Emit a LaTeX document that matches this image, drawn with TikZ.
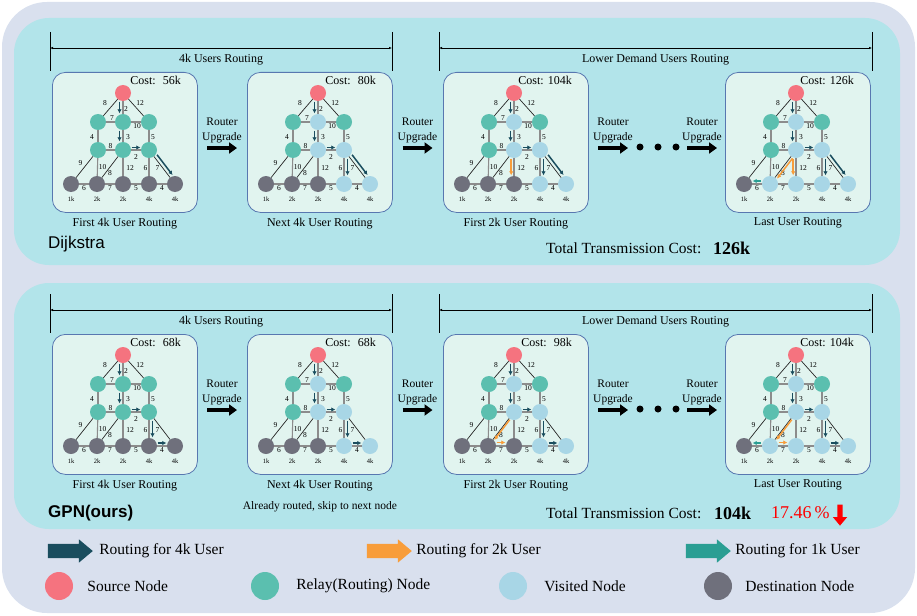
\documentclass[tikz,border=0pt]{standalone}
\usepackage{fontspec}
\setmainfont{Liberation Serif}
\newfontfamily\tagsans{Liberation Sans}
\usetikzlibrary{positioning,arrows.meta,shapes.arrows}

\definecolor{outerbg}{HTML}{D9E0EE}
\definecolor{panelbg}{HTML}{B2E4EA}
\definecolor{boxbg}{HTML}{E1F4EF}
\definecolor{boxline}{HTML}{5877B0}
\definecolor{srcred}{HTML}{F5737F}
\definecolor{relaygreen}{HTML}{5BBFAF}
\definecolor{visitblue}{HTML}{A8D6E6}
\definecolor{destgray}{HTML}{6F707C}
\definecolor{route4}{HTML}{1A4D5E}
\definecolor{route2}{HTML}{F89D3A}
\definecolor{route1}{HTML}{2A9E93}

\tikzset{
  vtx/.style={circle, inner sep=0pt, minimum size=16pt},
  src/.style={vtx, fill=srcred},
  relay/.style={vtx, fill=relaygreen},
  visit/.style={vtx, fill=visitblue},
  dest/.style={vtx, fill=destgray},
  link/.style={draw=black!45, line width=1.1pt},
  diag/.style={draw=black!85, line width=0.7pt},
  wt/.style={font=\fontsize{7.5}{8}\selectfont, inner sep=0.5pt},
  dem/.style={font=\fontsize{6.5}{7}\selectfont, inner sep=0.5pt},
  netbox/.style={draw=boxline, fill=boxbg, line width=0.8pt, rounded corners=13pt,
    minimum width=145pt, minimum height=140pt, anchor=north west, inner sep=0pt},
  costlbl/.style={font=\fontsize{12}{14}\selectfont, anchor=east, inner sep=0pt},
  snapcap/.style={font=\fontsize{12}{14}\selectfont, inner sep=1pt},
  r4/.style={draw=route4, line width=1.5pt, -{Latex[length=4pt,width=4.5pt]},
    shorten <=0.5pt, shorten >=0.5pt},
  r2/.style={r4, draw=route2},
  r1/.style={r4, draw=route1},
  spantick/.style={draw=black, line width=0.8pt},
  spanline/.style={draw=black, line width=0.8pt, {Latex[length=3pt,width=2.5pt]}-{Latex[length=3pt,width=2.5pt]}},
  spanlbl/.style={font=\fontsize{12}{14}\selectfont, inner sep=0pt},
  upg/.style={font=\fontsize{11.5}{15}\selectfont, align=center, inner sep=0pt},
  upgarrow/.style={draw=black, line width=3.8pt, -{Triangle[length=8pt,width=11pt]}},
  dotnode/.style={circle, fill=black, inner sep=0pt, minimum size=7pt},
  blockarrow/.style={single arrow, minimum height=45pt, inner xsep=0pt, inner ysep=7pt,
    single arrow head extend=4.5pt, single arrow tip angle=80},
  legdot/.style={circle, inner sep=0pt, minimum size=28pt},
  legtxt/.style={font=\fontsize{15.5}{18}\selectfont, inner sep=0pt, anchor=west},
  totallbl/.style={font=\fontsize{15.5}{18}\selectfont, inner sep=0pt, anchor=west},
}

% one routing snapshot: x, y, prefix, cost, middle nodes, d2..d5
\newcommand{\netpanel}[9]{%
  \begin{scope}[shift={(#1,#2)}, name prefix=#3-]
    \node[netbox] (box) at (0,0) {};
    \node[costlbl] (cost) at (129,8) {Cost: #4};
    % vertices
    \node[src]   (s)  at (71,21) {};
    \node[relay] (a1) at (46,50) {};
    \node[#5]    (a2) at (71,50) {};
    \node[relay] (a3) at (97,50) {};
    \node[relay] (b1) at (46,78) {};
    \node[#5]    (b2) at (71,78) {};
    \node[#5]    (b3) at (97,78) {};
    \node[dest]  (d1) at (19,112) {};
    \node[#6]    (d2) at (45,112) {};
    \node[#7]    (d3) at (71,112) {};
    \node[#8]    (d4) at (97,112) {};
    \node[#9]    (d5) at (123,112) {};
    % demands
    \node[dem] (k1) at (19,127) {1k};
    \node[dem] (k2) at (45,127) {2k};
    \node[dem] (k3) at (71,127) {2k};
    \node[dem] (k4) at (97,127) {4k};
    \node[dem] (k5) at (123,127) {4k};
    % links
    \draw[diag] (s) -- node[wt,xshift=-5.5pt,yshift=4.5pt] {8} (a1);
    \draw[link] (s) -- node[wt,xshift=3pt,yshift=-1.5pt] {2} (a2);
    \draw[diag] (s) -- node[wt,xshift=4pt,yshift=4.5pt] {12} (a3);
    \draw[link] (a1) -- node[wt,xshift=1.5pt,yshift=4pt] {7} (a2);
    \draw[link] (a2) -- node[wt,xshift=1pt,yshift=-4pt] {10} (a3);
    \draw[link] (a1) -- node[wt,xshift=-6pt,yshift=-1pt] {4} (b1);
    \draw[link] (a2) -- node[wt,xshift=5pt,yshift=-1pt] {3} (b2);
    \draw[link] (a3) -- node[wt,xshift=4pt,yshift=-1pt] {5} (b3);
    \draw[link] (b1) -- node[wt,yshift=4pt] {8} (b2);
    \draw[link] (b2) -- node[wt,yshift=-7pt] {2} (b3);
    \draw[diag] (b1) -- node[wt,xshift=-4pt,yshift=4pt] {9} (d1);
    \draw[link] (b1) -- node[wt,xshift=5pt] {10} (d2);
    \draw[diag] (b2) -- node[wt,yshift=-6pt] {8} (d2);
    \draw[link] (b2) -- node[wt,xshift=7pt,yshift=-1pt] {12} (d3);
    \draw[link] (b3) -- node[wt,xshift=-3.5pt,yshift=-1pt] {6} (d4);
    \draw[diag] (b3) -- node[wt,xshift=-4.5pt,yshift=-1pt] {7} (d5);
    \draw[link] (d1) -- node[wt,yshift=-4.5pt] {6} (d2);
    \draw[link] (d2) -- node[wt,yshift=-4.5pt] {7} (d3);
    \draw[link] (d3) -- node[wt,yshift=-4.5pt] {5} (d4);
    \draw[link] (d4) -- node[wt,yshift=-4.5pt] {4} (d5);
  \end{scope}}

% a routed hop, drawn beside its link
\newcommand{\route}[4]{\draw[#1, transform canvas={shift={(#4)}}] (#2) -- (#3);}

\begin{document}
\begin{tikzpicture}[x=1pt,y=-1pt]
  \useasboundingbox (0,0) rectangle (917,615);

  % backgrounds
  \fill[outerbg, rounded corners=45pt] (2,2) rectangle (915,613);
  \fill[panelbg, rounded corners=35pt] (14,18) rectangle (900,265);
  \fill[panelbg, rounded corners=35pt] (14,283) rectangle (900,529);

  % spans over the snapshots
  \draw[spantick] (50,32) -- (50,71);
  \draw[spantick] (392,32) -- (392,71);
  \draw[spantick] (439,32) -- (439,71);
  \draw[spantick] (872,32) -- (872,71);
  \coordinate (sp1a) at (50,48);  \coordinate (sp1b) at (392,48);
  \coordinate (sp2a) at (439,48); \coordinate (sp2b) at (872,48);
  \draw[spanline] (sp1a) -- node[spanlbl,yshift=-12pt] {4k Users Routing} (sp1b);
  \draw[spanline] (sp2a) -- node[spanlbl,yshift=-12pt] {Lower Demand Users Routing} (sp2b);

  \draw[spantick] (50,294) -- (50,333);
  \draw[spantick] (392,294) -- (392,333);
  \draw[spantick] (439,294) -- (439,333);
  \draw[spantick] (872,294) -- (872,333);
  \coordinate (sp3a) at (50,310);  \coordinate (sp3b) at (392,310);
  \coordinate (sp4a) at (439,310); \coordinate (sp4b) at (872,310);
  \draw[spanline] (sp3a) -- node[spanlbl,yshift=-12pt] {4k Users Routing} (sp3b);
  \draw[spanline] (sp4a) -- node[spanlbl,yshift=-12pt] {Lower Demand Users Routing} (sp4b);

  % router upgrades
  \foreach \ux/\nm in {222/a,417.5/b,613/c,702/d}{
    \foreach \uy/\rw in {0/t,262/b}{
      \node[upg] (up-\nm\rw) at (\ux,130+\uy) {Router\\Upgrade};
      \coordinate (ua-\nm\rw) at (\ux-15,148+\uy);
      \coordinate (ub-\nm\rw) at (\ux+15,148+\uy);
      \draw[upgarrow] (ua-\nm\rw) -- (ub-\nm\rw);
    }}
  \foreach \dx in {640,658,676}{
    \node[dotnode] (dt-\dx-t) at (\dx,147) {};
    \node[dotnode] (dt-\dx-b) at (\dx,409) {};
  }

  % Dijkstra snapshots
  \netpanel{52}{72}{T1}{\ 56k}{relay}{dest}{dest}{dest}{dest}
  \netpanel{247}{72}{T2}{\ 80k}{visit}{dest}{dest}{visit}{visit}
  \netpanel{443}{72}{T3}{104k}{visit}{dest}{dest}{visit}{visit}
  \netpanel{725}{72}{T4}{126k}{visit}{visit}{visit}{visit}{visit}
  % GPN snapshots
  \netpanel{52}{334}{B1}{\ 68k}{relay}{dest}{dest}{dest}{dest}
  \netpanel{247}{334}{B2}{\ 68k}{visit}{dest}{dest}{visit}{visit}
  \netpanel{443}{334}{B3}{\ 98k}{visit}{dest}{dest}{visit}{visit}
  \netpanel{725}{334}{B4}{104k}{visit}{visit}{visit}{visit}{visit}

  % routed hops
  \foreach \p in {T1,T2,T3,T4,B1,B2,B3,B4}{
    \route{r4}{\p-s}{\p-a2}{-3.5pt,0pt}
    \route{r4}{\p-a2}{\p-b2}{-3.5pt,0pt}
    \route{r4}{\p-b2}{\p-b3}{0pt,2.5pt}
  }
  \foreach \p in {T1,T2,T3,T4}{\route{r4}{\p-b3}{\p-d5}{2.8pt,2.1pt}}
  \foreach \p in {T2,T3,T4}{\route{r4}{\p-b3}{\p-d4}{3.5pt,0pt}}
  \foreach \p in {B1,B2,B3,B4}{
    \route{r4}{\p-b3}{\p-d4}{3.5pt,0pt}
    \route{r4}{\p-d4}{\p-d5}{0pt,3pt}
  }
  \route{r2}{T3-b2}{T3-d3}{-2.8pt,0pt}
  \route{r2}{T4-b2}{T4-d3}{-2.8pt,0pt}
  \route{r2}{T4-b2}{T4-d2}{1.8pt,-1.4pt}
  \route{r1}{T4-d2}{T4-d1}{0pt,3pt}
  \foreach \p in {B3,B4}{
    \route{r2}{\p-b2}{\p-d2}{1pt,-0.8pt}
    \route{r2}{\p-d2}{\p-d3}{0pt,3.5pt}
  }
  \route{r1}{B4-d2}{B4-d1}{0pt,3pt}

  % captions
  \node[snapcap, below=4pt of T1-box] (T1-cap) {First 4k User Routing};
  \node[snapcap, below=4pt of T2-box] (T2-cap) {Next 4k User Routing};
  \node[snapcap, below=4pt of T3-box] (T3-cap) {First 2k User Routing};
  \node[snapcap, below=4pt of T4-box] (T4-cap) {Last User Routing};
  \node[snapcap, below=4pt of B1-box] (B1-cap) {First 4k User Routing};
  \node[snapcap, below=4pt of B2-box] (B2-cap) {Next 4k User Routing};
  \node[snapcap, below=4pt of B3-box] (B3-cap) {First 2k User Routing};
  \node[snapcap, below=4pt of B4-box] (B4-cap) {Last User Routing};
  \node[font=\fontsize{11.5}{13}\selectfont, inner sep=0pt, below=9pt of B2-cap] (skip) {Already routed, skip to next node};

  % results
  \node[anchor=west, inner sep=0pt, font=\tagsans\fontsize{17}{19}\selectfont] (dij) at (48,244) {Dijkstra};
  \node[totallbl] (tot1) at (546,248) {Total Transmission Cost:};
  \node[totallbl, font=\bfseries\fontsize{18}{20}\selectfont] (val1) at (713,248) {126k};
  \node[anchor=west, inner sep=0pt, font=\tagsans\bfseries\fontsize{17}{19}\selectfont] (gpn) at (48,513) {GPN(ours)};
  \node[totallbl] (tot2) at (546,513) {Total Transmission Cost:};
  \node[totallbl, font=\bfseries\fontsize{18}{20}\selectfont] (val2) at (714,513) {104k};
  \node[totallbl, font=\fontsize{18}{20}\selectfont, text=red] (gain) at (771,513) {17.46\,\%};
  \node[single arrow, fill=red, rotate=-90, minimum height=21pt, inner xsep=0pt, inner ysep=2.5pt,
    single arrow head extend=4.5pt, single arrow tip angle=80] (down) at (840,513.5) {};

  % legend
  \node[blockarrow, fill=route4] (lg4) at (66,551) {};
  \node[legtxt, right=6pt of lg4] (lg4t) {Routing for 4k User};
  \node[blockarrow, fill=route2] (lg2) at (385,551) {};
  \node[legtxt, right=4pt of lg2] (lg2t) {Routing for 2k User};
  \node[blockarrow, fill=route1] (lg1) at (704,551) {};
  \node[legtxt, right=4pt of lg1] (lg1t) {Routing for 1k User};
  \node[legdot, fill=srcred] (lgs) at (59,586) {};
  \node[legtxt, right=14pt of lgs] (lgst) {Source Node};
  \node[legdot, fill=relaygreen] (lgr) at (265,586) {};
  \node[legtxt, right=17pt of lgr] (lgrt) {Relay(Routing) Node};
  \node[legdot, fill=visitblue] (lgv) at (513,586) {};
  \node[legtxt, right=17pt of lgv] (lgvt) {Visited Node};
  \node[legdot, fill=destgray] (lgd) at (718,586) {};
  \node[legtxt, right=13pt of lgd] (lgdt) {Destination Node};
\end{tikzpicture}
\end{document}
